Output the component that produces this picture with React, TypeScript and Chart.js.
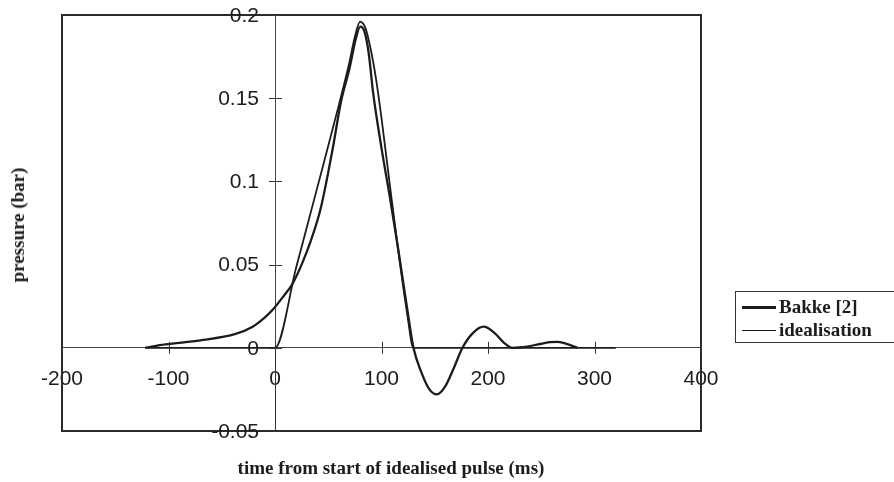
import React, { useEffect, useRef } from 'react';
import { Chart, registerables } from 'chart.js';

Chart.register(...registerables);

// ---- data ----
const bakkeTime = [-122, -103, -70, -37, -21, -10, -2, 8, 16, 25, 34, 43, 54, 62, 70, 76, 80, 84, 88, 92, 100, 108, 116, 124, 130, 137, 145, 152, 160, 168, 176, 186, 196, 206, 215, 223, 235, 248, 258, 265, 273, 284];
const bakkePressure = [0, 0.002, 0.0045, 0.0084, 0.0127, 0.018, 0.023, 0.031, 0.038, 0.05, 0.065, 0.084, 0.119, 0.148, 0.168, 0.186, 0.193, 0.19, 0.177, 0.154, 0.12, 0.09, 0.058, 0.024, 0, -0.014, -0.025, -0.028, -0.023, -0.012, 0, 0.009, 0.0127, 0.009, 0.003, 0, 0.0005, 0.0022, 0.0034, 0.0036, 0.0025, 0];

const idealTime = [-120, -60, 0, 20, 40, 60, 70, 75, 80, 85, 90, 95, 100, 108, 116, 124, 130, 200, 260, 320];
const idealPressure = [0, 0, 0, 0.0486, 0.097, 0.146, 0.172, 0.187, 0.196, 0.192, 0.179, 0.161, 0.138, 0.097, 0.057, 0.021, 0, 0, 0, 0];

const xMin = -200;
const xMax = 400;
const xStep = 100;
const yMin = -0.05;
const yMax = 0.2;
const yStep = 0.05;

const seriesNames = ['Bakke [2]', 'idealisation'];
const xTitle = 'time from start of idealised pulse (ms)';
const yTitle = 'pressure (bar)';

const INK = '#1c1c1c';
const SERIF = "'Liberation Serif', 'Times New Roman', serif";
const SANS = "'Liberation Sans', Arial, sans-serif";
const TICK_FONT_SIZE = 21;

const fmtY = (v: number) => String(Number(v.toFixed(3)));

const framePlugin = {
  id: 'frameAndCrosses',
  afterDraw(chart: any) {
    const { ctx, chartArea } = chart;
    const { left, top, right, bottom } = chartArea;
    const xs = chart.scales.x;
    const ys = chart.scales.y;
    const x0 = xs.getPixelForValue(0);
    const y0 = ys.getPixelForValue(0);
    ctx.save();
    ctx.strokeStyle = '#2a2a2a';
    ctx.lineWidth = 2;
    ctx.strokeRect(left, top, right - left, bottom - top);
    ctx.lineWidth = 1;
    ctx.strokeStyle = '#333';
    // solid part of the y axis below zero
    ctx.beginPath();
    ctx.moveTo(Math.round(x0) + 0.5, y0);
    ctx.lineTo(Math.round(x0) + 0.5, bottom);
    ctx.stroke();
    // tick crosses
    xs.ticks.forEach((t: any) => {
      const px = Math.round(xs.getPixelForValue(t.value)) + 0.5;
      ctx.beginPath();
      ctx.moveTo(px, y0 - 6);
      ctx.lineTo(px, y0 + 6);
      ctx.stroke();
    });
    ys.ticks.forEach((t: any) => {
      const py = Math.round(ys.getPixelForValue(t.value)) + 0.5;
      ctx.beginPath();
      ctx.moveTo(x0 - 6, py);
      ctx.lineTo(x0 + 7, py);
      ctx.stroke();
    });
    // y tick labels, to the left of the x = 0 axis
    ctx.fillStyle = INK;
    ctx.font = `${TICK_FONT_SIZE}px ${SANS}`;
    ctx.textAlign = 'right';
    ctx.textBaseline = 'middle';
    ys.ticks.forEach((t: any) => {
      const py = ys.getPixelForValue(t.value);
      ctx.fillText(fmtY(t.value), x0 - 16, py + 1);
    });
    ctx.restore();
  },
};

export default function App() {
  const canvasRef = useRef<HTMLCanvasElement | null>(null);

  useEffect(() => {
    if (!canvasRef.current) return;
    const chart = new Chart(canvasRef.current, {
      type: 'line',
      data: {
        datasets: [
          {
            label: seriesNames[0],
            data: bakkeTime.map((t, i) => ({ x: t, y: bakkePressure[i] })),
            borderColor: INK,
            borderWidth: 2.3,
            pointRadius: 0,
            fill: false,
            cubicInterpolationMode: 'monotone',
          },
          {
            label: seriesNames[1],
            data: idealTime.map((t, i) => ({ x: t, y: idealPressure[i] })),
            borderColor: INK,
            borderWidth: 1.8,
            pointRadius: 0,
            fill: false,
            cubicInterpolationMode: 'monotone',
          },
        ],
      },
      options: {
        animation: false,
        responsive: true,
        maintainAspectRatio: false,
        layout: { padding: { left: 62, top: 15, right: 193, bottom: 51 } },
        plugins: {
          legend: { display: false },
          tooltip: { enabled: false },
          title: { display: false },
        },
        scales: {
          x: {
            type: 'linear',
            min: xMin,
            max: xMax,
            position: { y: 0 },
            grid: { display: false, drawTicks: false },
            border: { display: true, color: '#444', width: 1, dash: [7, 3, 1, 3] },
            ticks: {
              stepSize: xStep,
              padding: 19,
              autoSkip: false,
              maxRotation: 0,
              color: INK,
              font: { family: SANS, size: TICK_FONT_SIZE },
            },
          },
          y: {
            type: 'linear',
            min: yMin,
            max: yMax,
            position: { x: 0 },
            grid: { display: false, drawTicks: false },
            border: { display: true, color: '#444', width: 1, dash: [7, 3, 1, 3] },
            ticks: {
              stepSize: yStep,
              display: false,
              font: { family: SANS, size: TICK_FONT_SIZE },
            },
          },
        },
      },
      plugins: [framePlugin],
    } as any);
    return () => chart.destroy();
  }, []);

  return (
    <div style={{ position: 'fixed', left: 0, top: 0, width: 894, height: 482, background: '#fff', overflow: 'hidden' }}>
      <canvas ref={canvasRef} />
      <div
        style={{
          position: 'absolute',
          left: 18,
          top: 225,
          transform: 'translate(-50%, -50%) rotate(-90deg)',
          whiteSpace: 'nowrap',
          fontFamily: SERIF,
          fontWeight: 'bold',
          fontSize: 19,
          color: INK,
        }}
      >
        {yTitle}
      </div>
      <div
        style={{
          position: 'absolute',
          left: 391,
          top: 468,
          transform: 'translate(-50%, -50%)',
          whiteSpace: 'nowrap',
          fontFamily: SERIF,
          fontWeight: 'bold',
          fontSize: 19,
          color: INK,
        }}
      >
        {xTitle}
      </div>
      <div
        style={{
          position: 'absolute',
          left: 735,
          top: 291,
          width: 170,
          height: 52,
          border: '1px solid #333',
          boxSizing: 'border-box',
          fontFamily: SERIF,
          fontWeight: 'bold',
          fontSize: 19,
          color: INK,
        }}
      >
        {seriesNames.map((name, i) => (
          <div key={name} style={{ position: 'absolute', left: 6, top: 4 + i * 23, height: 22, display: 'flex', alignItems: 'center', whiteSpace: 'nowrap' }}>
            <span style={{ display: 'inline-block', width: 34, height: 0, borderTop: `${i === 0 ? 3 : 1.5}px solid ${INK}`, marginRight: 3 }} />
            <span>{name}</span>
          </div>
        ))}
      </div>
    </div>
  );
}
